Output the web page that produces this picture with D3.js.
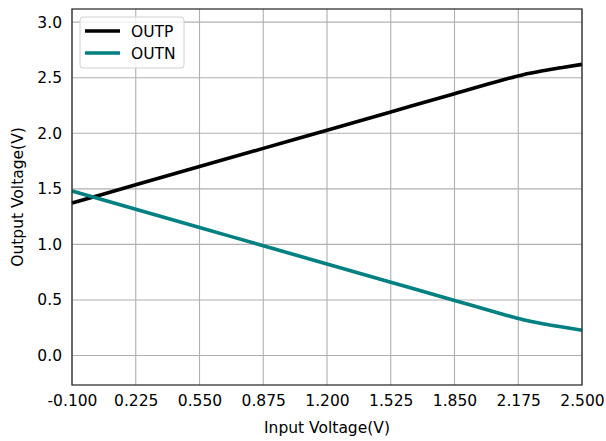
<!DOCTYPE html>
<html><head><meta charset="utf-8">
<script src="https://cdn.jsdelivr.net/npm/d3@7"></script>
<style>body{margin:0;background:#fff}svg{display:block}text{font-family:"DejaVu Sans",sans-serif}</style>
</head><body><svg id="c" width="606" height="441"></svg>
<script>
const xTicks = [-0.1, 0.225, 0.55, 0.875, 1.2, 1.525, 1.85, 2.175, 2.5];
const yTicks = [0.0, 0.5, 1.0, 1.5, 2.0, 2.5, 3.0];
const inputV = [-0.1, 0.225, 0.55, 0.875, 1.2, 1.525, 1.85, 2.1, 2.2, 2.3, 2.4, 2.5];
const outp = [1.372, 1.536, 1.700, 1.864, 2.028, 2.192, 2.356, 2.482, 2.527, 2.562, 2.592, 2.620];
const outn = [1.480, 1.316, 1.152, 0.988, 0.824, 0.660, 0.496, 0.370, 0.322, 0.286, 0.256, 0.228];
const seriesNames = ["OUTP", "OUTN"];
const colors = ["#000000", "#008080"];

const FS = 15.5;
const svg = d3.select("#c");
const L = 72, R = 582, T = 9, B = 385;
const x = d3.scaleLinear().domain([-0.1, 2.5]).range([L, R]);
const y = d3.scaleLinear().domain([-0.265, 3.118]).range([B, T]);

// grid
svg.append("g").selectAll("line").data(xTicks).join("line")
  .attr("x1", d => x(d)).attr("x2", d => x(d)).attr("y1", T).attr("y2", B)
  .attr("stroke", "#b0b0b0").attr("stroke-width", 1.1);
svg.append("g").selectAll("line").data(yTicks).join("line")
  .attr("y1", d => y(d)).attr("y2", d => y(d)).attr("x1", L).attr("x2", R)
  .attr("stroke", "#b0b0b0").attr("stroke-width", 1.1);

// axes
const fx = d => d3.format(".3f")(d).replace("\u2212", "-");
const fy = d => d3.format(".1f")(d).replace("\u2212", "-");
const xa = svg.append("g").attr("transform", `translate(0,${B})`)
  .call(d3.axisBottom(x).tickValues(xTicks).tickFormat(fx).tickSize(0).tickPadding(10));
const ya = svg.append("g").attr("transform", `translate(${L},0)`)
  .call(d3.axisLeft(y).tickValues(yTicks).tickFormat(fy).tickSize(0).tickPadding(10));
[xa, ya].forEach(a => { a.select(".domain").remove(); a.selectAll("text").attr("font-size", FS).attr("fill", "#000").style("font-family", "DejaVu Sans"); });

// lines
const lineGen = ys => d3.line().x((d, i) => x(inputV[i])).y(d => y(d)).curve(d3.curveMonotoneX)(ys);
[outp, outn].forEach((s, k) => {
  svg.append("path").attr("d", lineGen(s)).attr("fill", "none")
    .attr("stroke", colors[k]).attr("stroke-width", 3.6).attr("stroke-linejoin", "round");
});

// frame
svg.append("rect").attr("x", L).attr("y", T).attr("width", R - L).attr("height", B - T)
  .attr("fill", "none").attr("stroke", "#222").attr("stroke-width", 1.2);

// legend
const lg = svg.append("g");
lg.append("rect").attr("x", 80).attr("y", 17).attr("width", 104).attr("height", 51).attr("rx", 3)
  .attr("fill", "rgba(255,255,255,0.8)").attr("stroke", "#d0d0d0").attr("stroke-width", 1);
seriesNames.forEach((n, i) => {
  const yy = 31 + i * 22;
  lg.append("line").attr("x1", 85).attr("x2", 120).attr("y1", yy).attr("y2", yy)
    .attr("stroke", colors[i]).attr("stroke-width", 3.6);
  lg.append("text").attr("x", 131).attr("y", yy + 5.5).attr("font-size", FS).text(n);
});

// axis labels
svg.append("text").attr("x", (L + R) / 2).attr("y", 433).attr("text-anchor", "middle").attr("font-size", FS).text("Input Voltage(V)");
svg.append("text").attr("transform", `translate(23,${(T + B) / 2}) rotate(-90)`).attr("text-anchor", "middle").attr("font-size", FS).text("Output Voltage(V)");
</script></body></html>
